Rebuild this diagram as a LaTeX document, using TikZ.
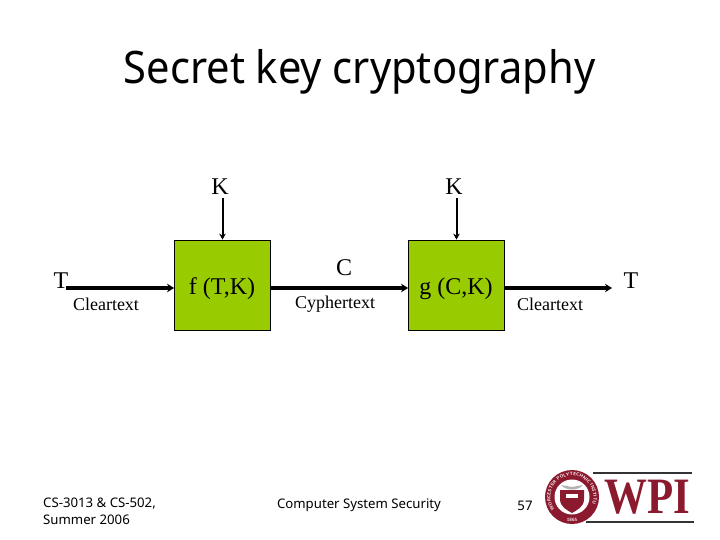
\documentclass[tikz,border=0pt]{standalone}
\usepackage{fontspec}
\setmainfont{Liberation Serif}
\newfontfamily\slidefont{Noto Sans}
\usepackage{xcolor}
\usetikzlibrary{positioning, arrows.meta, decorations.text}
\definecolor{boxgreen}{RGB}{153,204,0}
\definecolor{wpired}{RGB}{139,26,46}

\begin{document}
\begin{tikzpicture}[x=1pt,y=1pt,node distance=234pt,
    keybox/.style={draw=black,fill=boxgreen,line width=0.8pt,minimum width=96pt,minimum height=90pt,inner sep=0pt,font=\fontsize{24}{28}\selectfont},
    biglabel/.style={inner sep=0pt,font=\fontsize{24}{28}\selectfont},
    smalllabel/.style={inner sep=0pt,font=\fontsize{18}{22}\selectfont},
    footer/.style={inner sep=0pt,align=left,font=\slidefont\fontsize{13.2}{17}\selectfont},
    flow/.style={-{Stealth[length=7pt,width=8.5pt]},line width=4pt},
    keyflow/.style={-{Stealth[length=6pt,width=6.5pt]},line width=2pt}]
    \useasboundingbox (0,0) rectangle (720,-540);
    \node[inner sep=0pt,xscale=0.93,font=\slidefont\fontsize{44.8}{50}\selectfont] (title) at (359.5,-72) {Secret key cryptography};

    \node[keybox] (f) at (222.5,-285) {};
    \node[keybox] (g) [right of=f] {};
    \node[biglabel] (ftext) at (222,-289) {f (T,K)};
    \node[biglabel] (gtext) at (456,-289) {g (C,K)};

    \node[biglabel] (kf) at (220,-187) {K};
    \node[biglabel] (kg) at (454,-187) {K};
    \node[biglabel] (tin) at (61,-281) {T};
    \node[biglabel] (tout) at (631,-281) {T};
    \node[biglabel] (c) at (344,-268) {C};
    \node[smalllabel] (clearin) at (106,-304.5) {Cleartext};
    \node[smalllabel] (cypher) at (335,-304.5) {Cyphertext};
    \node[smalllabel] (clearout) at (550,-304.5) {Cleartext};

    \coordinate (instart) at (66,-288);
    \coordinate (outend) at (612,-288);
    \draw[flow] (instart) -- (instart -| f.west);
    \draw[flow] (instart -| f.east) -- (instart -| g.west);
    \draw[flow] (instart -| g.east) -- (outend);
    \draw[keyflow] (f.north |- kf.south) ++(0,-3) -- (f.north);
    \draw[keyflow] (g.north |- kg.south) ++(0,-3) -- (g.north);

    \node[footer,anchor=north west] (course) at (43,-497.5) {CS-3013 \& CS-502,\\Summer 2006};
    \node[footer] (topic) at (359,-505.5) {Computer System Security};
    \node[footer] (page) at (525,-505.5) {57};

    % logo
    \fill[wpired] (572,-497) circle (27);
    \fill[white] (572,-497) circle (17.5);
    \path[decorate,decoration={text along path,text align=center,
        text={|\sffamily\bfseries\fontsize{4.6}{5}\selectfont\color{white}|WORCESTER POLYTECHNIC INSTITUTE}}]
        (552,-505) arc[start angle=202,end angle=-22,radius=21.5];
    \node[inner sep=0pt,text=white,font=\sffamily\bfseries\fontsize{4.6}{5}\selectfont] (year) at (572,-520) {1865};
    \fill[wpired] (560,-490) -- (584,-490) -- (584,-499) .. controls (584,-507) and (577,-510) .. (572,-513) .. controls (567,-510) and (560,-507) .. (560,-499) -- cycle;
    \fill[white] (566,-498) rectangle (578,-494);
    \fill[gray!60] (561,-485) .. controls (566,-491) and (578,-491) .. (583,-485) -- (572,-487) -- cycle;
    \draw[black!80,line width=1.2pt] (593,-473) -- (692,-473);
    \draw[black!80,line width=1.2pt] (586,-522) -- (694,-522);
    \node[inner sep=0pt,text=wpired,xscale=0.84,font=\bfseries\fontsize{51}{51}\selectfont] (wpi) at (647,-497.5) {WPI};
\end{tikzpicture}
\end{document}
